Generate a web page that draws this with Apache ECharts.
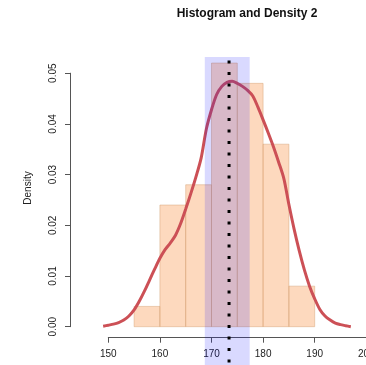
<!DOCTYPE html>
<html>
<head>
<meta charset="utf-8">
<script src="https://cdn.jsdelivr.net/npm/echarts@6/dist/echarts.min.js"></script>
<style>
  html, body { margin: 0; padding: 0; background: #fff; }
  #chart { width: 366px; height: 365px; }
</style>
</head>
<body>
<div id="chart"></div>
<script>
// histogram bins (height = density)
const binEdges = [155, 160, 165, 170, 175, 180, 185, 190];
const binDensity = [0.004, 0.024, 0.028, 0.052, 0.048, 0.036, 0.008];

// kernel density curve
const curveX = [149, 150, 151, 152, 153, 154, 155, 156, 157, 158, 159, 160, 161, 162, 163, 164, 165, 166, 167, 168, 169, 170, 171, 172, 173,
  174, 175, 176, 177, 178, 179, 180, 181, 182, 183, 184, 185, 186, 187, 188, 189, 190, 191, 192, 193, 194, 195, 196, 197];
const curveY = [0.0001, 0.0003, 0.0005, 0.0008, 0.0013, 0.0021, 0.0033, 0.0050, 0.0070, 0.0092, 0.0114, 0.0135, 0.0152, 0.0165, 0.0180,
  0.0203, 0.0232, 0.0263, 0.0296, 0.0333, 0.0390, 0.0428, 0.0458, 0.0474, 0.0482,
  0.0484, 0.0480, 0.0474, 0.0466, 0.0455, 0.0433, 0.0408, 0.0382, 0.0355, 0.0325, 0.0293, 0.0241, 0.0193, 0.0150, 0.0112,
  0.0080, 0.0055, 0.0034, 0.0021, 0.0013, 0.0007, 0.0004, 0.0002, 0.0000];

// shaded interval and centre marker
const bandRange = [168.7, 177.4];
const bandTop = 0.0532;
const markerX = 173.4;
const markerTop = 0.0525;

// axis ranges
const xTickMin = 150, xTickMax = 200, xTickStep = 10;
const yTickMin = 0, yTickMax = 0.05, yTickStep = 0.01;

const chart = echarts.init(document.getElementById('chart'), null, { renderer: 'canvas' });

const font = 'Liberation Sans, Arial, sans-serif';
const axisColor = '#555';

const bars = binDensity.map((d, i) => [binEdges[i], binEdges[i + 1], d]);

const option = {
  animation: false,
  title: {
    text: 'Histogram and Density 2',
    left: 242,
    textAlign: 'center',
    top: 3,
    textStyle: { fontFamily: font, fontSize: 12, fontWeight: 'bold', color: '#111' }
  },
  graphic: [{
    type: 'text',
    x: 28,
    y: 188,
    rotation: Math.PI / 2,
    style: { text: 'Density', font: '10px ' + font, fill: '#222', align: 'center', verticalAlign: 'middle' }
  }],
  grid: [
    // data area
    { left: 82.5, width: 283.8, top: 47.85, height: 319.4, outerBoundsMode: 'none' },
    // x axis (R style, detached)
    { left: 108.3, width: 258, top: 300, height: 37.7, outerBoundsMode: 'none' },
    // y axis
    { left: 70, width: 10, top: 73.2, height: 253.5, outerBoundsMode: 'none' }
  ],
  xAxis: [
    { gridIndex: 0, type: 'value', min: 145, max: 200, show: false },
    {
      gridIndex: 1, type: 'value', min: xTickMin, max: xTickMax, interval: xTickStep,
      axisLine: { show: true, lineStyle: { color: axisColor, width: 1 } },
      axisTick: { show: true, length: 5, lineStyle: { color: axisColor } },
      axisLabel: { margin: 12, fontFamily: font, fontSize: 10, color: '#222', hideOverlap: false },
      splitLine: { show: false }
    },
    { gridIndex: 2, type: 'value', show: false }
  ],
  yAxis: [
    { gridIndex: 0, type: 'value', min: -0.008, max: 0.055, show: false },
    { gridIndex: 1, type: 'value', show: false },
    {
      gridIndex: 2, type: 'value', position: 'left', min: yTickMin, max: yTickMax, interval: yTickStep,
      axisLine: { show: true, lineStyle: { color: axisColor, width: 1 } },
      axisTick: { show: true, length: 5, lineStyle: { color: axisColor } },
      axisLabel: {
        margin: 12, rotate: 90, fontFamily: font, fontSize: 10, color: '#222',
        formatter: v => v.toFixed(2)
      },
      splitLine: { show: false }
    }
  ],
  series: [
    {
      name: 'hist',
      type: 'custom',
      xAxisIndex: 0, yAxisIndex: 0,
      z: 1,
      data: bars,
      renderItem: (params, api) => {
        const p0 = api.coord([api.value(0), 0]);
        const p1 = api.coord([api.value(1), api.value(2)]);
        return {
          type: 'rect',
          shape: { x: p0[0], y: p1[1], width: p1[0] - p0[0], height: p0[1] - p1[1] },
          style: { fill: 'rgba(250,170,110,0.45)', stroke: 'rgba(205,150,100,0.4)', lineWidth: 1 }
        };
      }
    },
    {
      name: 'density',
      type: 'line',
      xAxisIndex: 0, yAxisIndex: 0,
      z: 2,
      smooth: 0.3,
      symbol: 'none',
      data: curveX.map((x, i) => [x, curveY[i]]),
      lineStyle: { color: '#cc5056', width: 3 }
    },
    {
      name: 'band',
      type: 'custom',
      xAxisIndex: 0, yAxisIndex: 0,
      z: 3,
      data: [[bandRange[0], bandRange[1], bandTop]],
      renderItem: (params, api) => {
        const p0 = api.coord([api.value(0), -0.008]);
        const p1 = api.coord([api.value(1), api.value(2)]);
        return {
          type: 'rect',
          shape: { x: p0[0], y: p1[1], width: p1[0] - p0[0], height: p0[1] - p1[1] },
          style: { fill: 'rgba(0,0,255,0.15)' }
        };
      }
    },
    {
      name: 'marker',
      type: 'line',
      xAxisIndex: 0, yAxisIndex: 0,
      z: 4,
      symbol: 'none',
      data: [[markerX, markerTop], [markerX, -0.008]],
      lineStyle: { color: '#000', width: 3, type: [3, 8.5], cap: 'butt' }
    }
  ]
};

chart.setOption(option);
</script>
</body>
</html>
